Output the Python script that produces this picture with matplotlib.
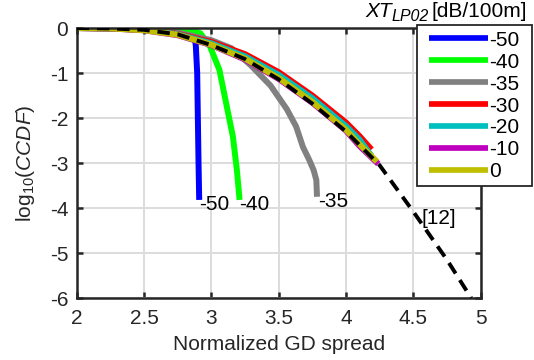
import matplotlib
matplotlib.use('Agg')
import matplotlib.pyplot as plt
from matplotlib.patches import Rectangle

plt.rcParams['font.family'] = ['Liberation Sans', 'DejaVu Sans']
plt.rcParams['mathtext.fontset'] = 'custom'
plt.rcParams['mathtext.rm'] = 'Liberation Sans'
plt.rcParams['mathtext.it'] = 'Liberation Sans:italic'
plt.rcParams['axes.unicode_minus'] = False

# reference curve [12]
ref_x = [2.0, 2.25, 2.5, 2.75, 3.0, 3.25, 3.5, 3.75, 4.0, 4.25, 4.5, 4.75, 4.93]
ref_y = [0, -0.01, -0.04, -0.14, -0.38, -0.69, -1.14, -1.68, -2.3, -3.05, -4.08, -5.15, -6.0]

xt_labels = ['-50', '-40', '-35', '-30', '-20', '-10', '0']
colors = ['#0000ff', '#00ff00', '#808080', '#ff0000', '#00bfbf', '#bf00bf', '#bfbf00']

x_m50 = [2.0, 2.6, 2.8, 2.85, 2.875, 2.885, 2.895, 2.9, 2.905, 2.91]
y_m50 = [0, 0, -0.005, -0.03, -0.15, -0.4, -1.0, -2.0, -3.0, -3.82]

x_m40 = [2.0, 2.5, 2.75, 2.85, 2.92, 2.99, 3.06, 3.11, 3.16, 3.19, 3.21]
y_m40 = [0, 0, -0.01, -0.04, -0.12, -0.41, -0.93, -1.67, -2.41, -3.16, -3.82]

x_m35 = [2.0, 2.5, 2.75, 3.0, 3.15, 3.29, 3.44, 3.56, 3.63, 3.68, 3.73, 3.76, 3.78, 3.785]
y_m35 = [0, -0.03, -0.1, -0.27, -0.45, -0.82, -1.28, -1.8, -2.19, -2.64, -2.95, -3.16, -3.38, -3.75]

x_bundle = [2.0, 2.25, 2.5, 2.75, 3.0, 3.25, 3.5, 3.75, 4.0, 4.1]
y_m30 = [0, -0.01, -0.04, -0.13, -0.31, -0.58, -0.98, -1.5, -2.1, -2.4]
y_m20 = [0, -0.01, -0.04, -0.14, -0.34, -0.63, -1.04, -1.56, -2.18, -2.48]
y_m10 = [0, -0.01, -0.05, -0.16, -0.38, -0.7, -1.13, -1.66, -2.28, -2.62]
y_0 = [0, -0.01, -0.05, -0.15, -0.37, -0.68, -1.11, -1.64, -2.26, -2.58]
end_x = {'-30': 4.19, '-20': 4.19, '-10': 4.24, '0': 4.23}
end_y = {'-30': -2.7, '-20': -2.84, '-10': -3.02, '0': -2.97}

curves = {
    '-50': (x_m50, y_m50),
    '-40': (x_m40, y_m40),
    '-35': (x_m35, y_m35),
    '-30': (x_bundle + [end_x['-30']], y_m30 + [end_y['-30']]),
    '-20': (x_bundle + [end_x['-20']], y_m20 + [end_y['-20']]),
    '-10': (x_bundle + [end_x['-10']], y_m10 + [end_y['-10']]),
    '0': (x_bundle + [end_x['0']], y_0 + [end_y['0']]),
}

W, H = 534, 360
fig = plt.figure(figsize=(W / 100, H / 100), dpi=100)
ax = fig.add_axes([0.1436, 0.1722, 0.7564, 0.75])

for lab, c in zip(xt_labels, colors):
    xs, ys = curves[lab]
    ax.plot(xs, ys, color=c, lw=4.3, label=lab, solid_capstyle='butt')
ax.plot(ref_x, ref_y, color='k', lw=2.8, dashes=(3.2, 2), zorder=3)

fs = 15
ax.text(2.91, -3.92, '-50', fontsize=fs, ha='left', va='center')
ax.text(3.21, -3.92, '-40', fontsize=fs, ha='left', va='center')
ax.text(3.79, -3.85, '-35', fontsize=fs, ha='left', va='center')
ax.text(4.56, -4.24, '[12]', fontsize=fs, ha='left', va='center')

ax.set_xlim(2, 5)
ax.set_ylim(-6, 0)
ax.set_xticks([2, 2.5, 3, 3.5, 4, 4.5, 5])
ax.set_xticklabels(['2', '2.5', '3', '3.5', '4', '4.5', '5'])
ax.set_yticks(range(-6, 1))
ax.grid(True, color='#dcdcdc', lw=1.4)
ax.set_axisbelow(True)
for s in ax.spines.values():
    s.set_color('#262626')
    s.set_linewidth(1.8)
ax.tick_params(direction='in', length=4, width=1.8, top=True, right=True,
               labelsize=fs, colors='#262626')
ax.tick_params(axis='x', pad=8)
ax.tick_params(axis='y', pad=6)
ax.set_xlabel('Normalized GD spread', fontsize=fs, color='#262626', labelpad=5)
ax.set_ylabel(r'log$_{10}$($\mathit{CCDF}$)', fontsize=fs, color='#262626', labelpad=9)

# legend box drawn separately so the padding can match
box = Rectangle((417.3 / W, 1 - 186 / H), (532 - 417.3) / W, (186 - 25) / H,
                transform=fig.transFigure, facecolor='white', edgecolor='#262626',
                lw=1.3, clip_on=False, zorder=4.5)
ax.add_patch(box)
leg = ax.legend(loc='center left', bbox_to_anchor=(429 / W, 1 - 106 / H),
                bbox_transform=fig.transFigure, fontsize=fs, frameon=False,
                handlelength=2.83, handletextpad=0.08, labelspacing=0.14,
                borderpad=0, borderaxespad=0)
leg.set_zorder(5)
for h in leg.get_lines():
    h.set_linewidth(4.1)

# legend title: XT with LP02 subscript, then the unit
base_y = 1 - 17 / H
t_unit = fig.text(527 / W, base_y, '[dB/100m]', fontsize=fs, ha='right', va='baseline')
fig.canvas.draw()
r = fig.canvas.get_renderer()
x0 = t_unit.get_window_extent(r).x0
t_sub = fig.text((x0 - 3) / W, base_y - 4 / H, 'LP02', fontsize=11.5, style='italic',
                 ha='right', va='baseline')
x1 = t_sub.get_window_extent(r).x0
fig.text((x1 + 0.5) / W, base_y, 'XT', fontsize=fs, style='italic', ha='right', va='baseline')

fig.savefig('out.png', dpi=100)
